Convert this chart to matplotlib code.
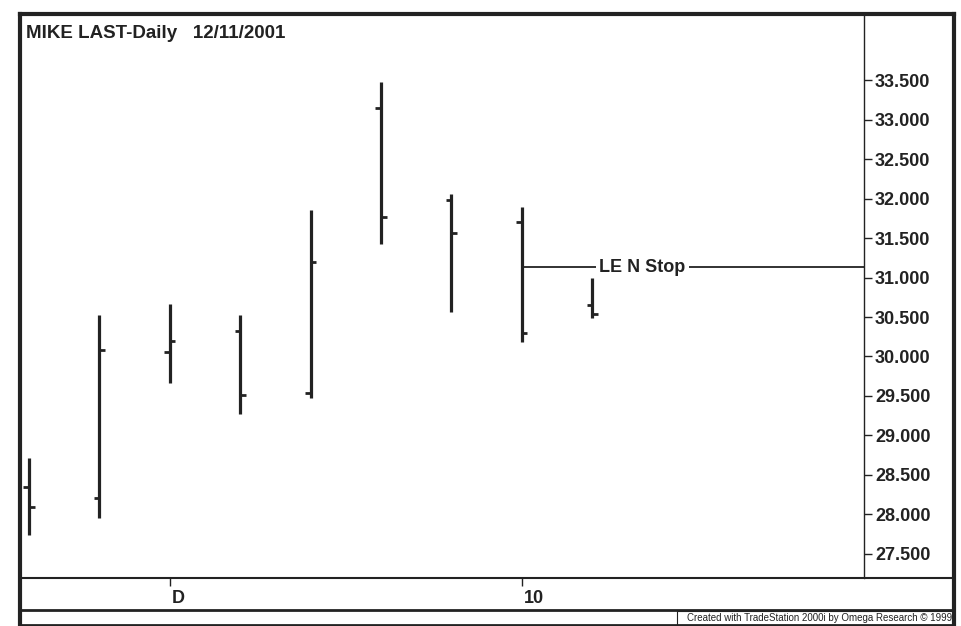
import matplotlib.pyplot as plt
import numpy as np
from matplotlib.lines import Line2D
from matplotlib.patches import Rectangle

# daily OHLC, 29 Nov 2001 .. 11 Dec 2001
opens = [28.35, 28.20, 30.06, 30.32, 29.54, 33.15, 31.99, 31.70, 30.65]
highs = [28.71, 30.52, 30.66, 30.52, 31.86, 33.48, 32.06, 31.90, 30.99]
lows = [27.73, 27.95, 29.66, 29.27, 29.47, 31.43, 30.56, 30.18, 30.49]
closes = [28.09, 30.08, 30.19, 29.51, 31.20, 31.77, 31.56, 30.30, 30.54]

date_ticks = [2, 7]
date_labels = ['D', '10']
price_ticks = [27.5, 28.0, 28.5, 29.0, 29.5, 30.0, 30.5, 31.0, 31.5, 32.0, 32.5, 33.0, 33.5]

stop_start = 7
stop_level = 31.13

W, H = 962, 626
ink = '#222222'
plt.rcParams['font.family'] = ['Liberation Sans', 'DejaVu Sans']

def fx(px):
    return px / W

def fy(py):
    return 1 - py / H

fig = plt.figure(figsize=(W / 100, H / 100), dpi=100)

# main price panel
left, right, top, bottom = 22, 864, 15, 578
ax = fig.add_axes([fx(left), fy(bottom), fx(right - left), fy(top) - fy(bottom)])
ax.set_xlim(-0.1, 11.86)
ax.set_ylim(27.19, 34.33)

x = np.arange(len(opens))
tick_w = 0.08
ax.vlines(x, lows, highs, color=ink, lw=2.3)
ax.hlines(opens, x - tick_w, x, color=ink, lw=2.0)
ax.hlines(closes, x, x + tick_w, color=ink, lw=2.0)

# LE N Stop line
ax.hlines(stop_level, stop_start, 11.86, color=ink, lw=1.3)
ax.text(8.71, stop_level, 'LE N Stop', fontsize=13, fontweight='bold', color=ink,
        ha='center', va='center',
        bbox=dict(facecolor='white', edgecolor='none', pad=2.5))

ax.yaxis.tick_right()
ax.set_yticks(price_ticks)
ax.set_yticklabels([f'{p:.3f}' for p in price_ticks])
ax.tick_params(axis='y', direction='out', length=6, width=1, color=ink, pad=2,
               labelsize=13, labelcolor=ink)
for lab in ax.get_yticklabels():
    lab.set_fontweight('bold')
ax.set_xticks([])
for s in ['left', 'top', 'bottom']:
    ax.spines[s].set_visible(False)
ax.spines['right'].set_linewidth(1.0)
ax.spines['right'].set_color(ink)

ax.text(0.005, 0.982, 'MIKE LAST-Daily   12/11/2001', transform=ax.transAxes,
        fontsize=13.5, fontweight='bold', color=ink, ha='left', va='top')

# date strip
ax2 = fig.add_axes([fx(left), fy(610), fx(right - left), fy(bottom) - fy(610)], sharex=ax)
ax2.set_ylim(0, 1)
ax2.set_yticks([])
ax2.set_xticks(date_ticks)
ax2.tick_params(axis='x', top=True, bottom=False, labelbottom=False,
                direction='in', length=6, width=1, color=ink)
for s in ax2.spines.values():
    s.set_visible(False)
for xt, lab in zip(date_ticks, date_labels):
    ax2.annotate(lab, (xt, 0.0), xytext=(1.5, 2), textcoords='offset points',
                 fontsize=13, fontweight='bold', color=ink, ha='left', va='bottom')

# frame lines
frame = [
    ((20, 20), (14, 625), 3.0),
    ((954, 954), (14, 625), 3.0),
    ((20, 954), (14, 14), 3.0),
    ((20, 954), (578, 578), 1.5),
    ((20, 954), (610, 610), 2.0),
    ((20, 954), (625, 625), 2.0),
]
for xs, ys, lw in frame:
    fig.add_artist(Line2D([fx(v) for v in xs], [fy(v) for v in ys], color=ink, lw=lw))

fig.add_artist(Rectangle((fx(677), fy(625)), fx(954 - 677), fy(611) - fy(625),
                         facecolor='white', edgecolor=ink, lw=0.8))
fig.text(fx(952), fy(618), 'Created with TradeStation 2000i by Omega Research \u00a9 1999',
         fontsize=7, color=ink, ha='right', va='center')

fig.savefig('out.png', dpi=100)
